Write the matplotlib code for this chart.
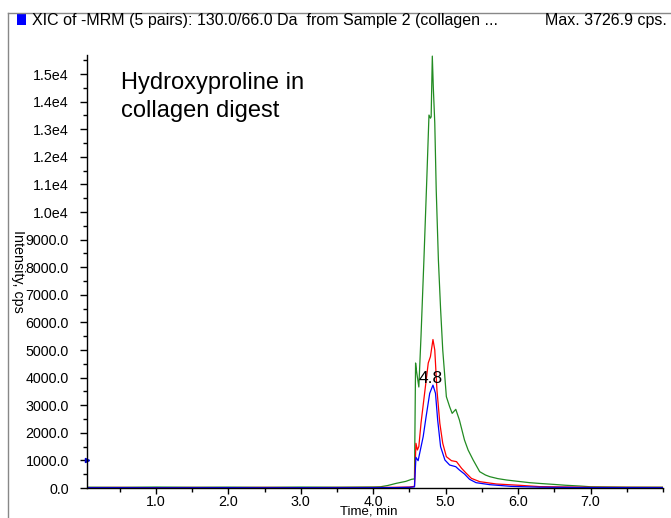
import matplotlib
matplotlib.use("Agg")
import matplotlib.pyplot as plt
from matplotlib.ticker import MultipleLocator, FuncFormatter
from matplotlib.patches import Rectangle
from matplotlib.lines import Line2D

plt.rcParams['font.family'] = ['Liberation Sans', 'DejaVu Sans']

# ---- data ----
green_t = [0.05, 0.5, 1.0, 1.5, 2.0, 2.5, 3.0, 3.5, 4.0, 4.1, 4.2, 4.32, 4.45, 4.53, 4.57,
           4.585, 4.6, 4.63, 4.66, 4.70, 4.74, 4.77, 4.79, 4.80, 4.816, 4.83, 4.85, 4.87, 4.90,
           4.93, 4.96, 5.01, 5.055, 5.09, 5.14, 5.19, 5.23, 5.26, 5.31, 5.38, 5.47, 5.55,
           5.61, 5.72, 5.84, 6.0, 6.16, 6.3, 6.48, 6.65, 6.85, 7.0, 7.5, 8.0]
green_v = [30, 25, 35, 28, 32, 26, 34, 30, 38, 45, 90, 170, 240, 315, 330,
           4530, 4200, 3660, 5500, 8260, 11200, 13514, 13400, 13450, 15650, 14500, 13225, 10800, 8260,
           6500, 5000, 3308, 2946, 2705, 2850, 2464, 2050, 1739, 1377, 1014, 591, 470,
           410, 340, 290, 240, 193, 165, 133, 100, 72, 45, 32, 30]

red_t = [0.05, 0.5, 1.0, 1.5, 2.0, 2.5, 3.0, 3.5, 4.0, 4.3, 4.5, 4.57, 4.59, 4.61, 4.63,
         4.66, 4.71, 4.76, 4.79, 4.825, 4.85, 4.88, 4.92, 4.96, 5.01, 5.08, 5.15, 5.22,
         5.285, 5.355, 5.47, 5.7, 6.02, 6.3, 7.0, 8.0]
red_v = [15, 20, 12, 18, 15, 20, 14, 18, 20, 25, 35, 60, 1620, 1377, 1500,
         2350, 3440, 4530, 4760, 5380, 5000, 3550, 2340, 1620, 1135, 990, 955, 713,
         532, 350, 230, 145, 98, 50, 25, 20]

blue_t = [0.05, 0.5, 1.0, 1.5, 2.0, 2.5, 3.0, 3.5, 4.0, 4.3, 4.5, 4.57, 4.59, 4.62,
          4.69, 4.73, 4.78, 4.825, 4.86, 4.89, 4.93, 4.99, 5.055, 5.14, 5.19, 5.26,
          5.33, 5.42, 5.61, 5.9, 6.3, 7.0, 8.0]
blue_v = [10, 12, 8, 10, 12, 9, 11, 10, 12, 15, 25, 40, 1110, 990,
          1860, 2580, 3430, 3727, 3430, 2460, 1500, 1014, 833, 772, 652, 507,
          315, 193, 120, 60, 30, 15, 12]

peak_label = "4.8"
peak_label_pos = (4.8, 3950)
threshold = 1000

y_ticks = list(range(0, 15001, 1000))
x_ticks = [1.0, 2.0, 3.0, 4.0, 5.0, 6.0, 7.0]

title_left = "XIC of -MRM (5 pairs): 130.0/66.0 Da  from Sample 2 (collagen ..."
title_right = "Max. 3726.9 cps."
annotation = "Hydroxyproline in\ncollagen digest"

# ---- figure ----
W, H = 671, 518
fig = plt.figure(figsize=(W / 100, H / 100), dpi=100)

ax = fig.add_axes([87 / W, (H - 488) / H, (663 - 87) / W, (488 - 55) / H])

ax.plot(green_t, green_v, color='#228b22', lw=0.9)
ax.plot(red_t, red_v, color='#ff0000', lw=0.9)
ax.plot(blue_t, blue_v, color='#0000ff', lw=0.9)

ax.set_xlim(0.05, 8.0)
ax.set_ylim(0, 15690)

for s in ['top', 'right']:
    ax.spines[s].set_visible(False)
for s in ['left', 'bottom']:
    ax.spines[s].set_linewidth(1.0)
    ax.spines[s].set_color('black')

ax.set_yticks(y_ticks)
ax.yaxis.set_minor_locator(MultipleLocator(500))
ax.set_xticks(x_ticks)
ax.xaxis.set_minor_locator(MultipleLocator(0.5))


def yfmt(v, pos):
    if v >= 10000:
        return "%.1fe4" % (v / 10000)
    return "%.1f" % v


ax.yaxis.set_major_formatter(FuncFormatter(yfmt))
ax.xaxis.set_major_formatter(FuncFormatter(lambda v, p: "%.1f" % v))
ax.tick_params(axis='y', which='major', direction='out', length=5, width=1, labelsize=10.3, pad=8)
ax.tick_params(axis='y', which='minor', direction='out', length=3, width=1)
ax.tick_params(axis='x', which='major', direction='out', length=4, width=1, labelsize=10.3, pad=1)
ax.tick_params(axis='x', which='minor', direction='out', length=3, width=1)

ax.set_ylabel("Intensity, cps", rotation=270, fontsize=10.3, labelpad=0, va='center')
ax.yaxis.set_label_coords(-69 / 576, 0.5)

ax.text(peak_label_pos[0], peak_label_pos[1], peak_label, fontsize=12.5, ha='center', va='center')

ax.plot([ax.get_xlim()[0]], [threshold], marker='>', color='#0000cc', markersize=3,
        clip_on=False)

ax.text(34 / 576, 1 - 17 / 433, annotation, transform=ax.transAxes, fontsize=17, va='top', ha='left',
        linespacing=1.35)

# x-axis label squeezed into the strip below the tick labels
fig.text(369 / W, 0.5 / H, "Time, min", fontsize=9.5, ha='center', va='bottom')

# frame and title
fig.add_artist(Line2D([8 / W, 8 / W], [0, 1 - 13 / H], color='#888888', lw=1))
fig.add_artist(Line2D([8 / W, 1], [1 - 13 / H, 1 - 13 / H], color='#888888', lw=1))
fig.patches.append(Rectangle((17 / W, 1 - 25 / H), 9 / W, 12 / H, transform=fig.transFigure,
                             facecolor='#0000ff', edgecolor='none'))
fig.text(32 / W, 1 - 21 / H, title_left, fontsize=11.5, va='center', ha='left')
fig.text(667 / W, 1 - 21 / H, title_right, fontsize=11.5, va='center', ha='right')

fig.savefig("out.png", dpi=100)
